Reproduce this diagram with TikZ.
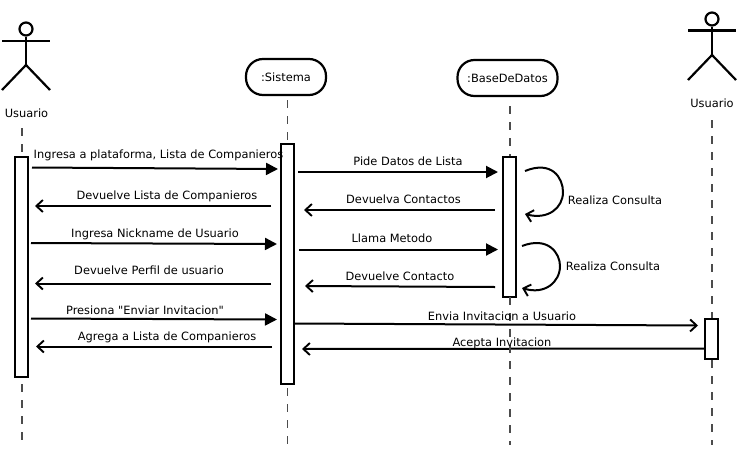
\documentclass[tikz,border=0pt]{standalone}
\usepackage{fontspec}
\newfontfamily\plainf{DejaVu Sans}
\usetikzlibrary{arrows.meta}
\tikzset{
  x=1pt,y=-1pt,
  txt/.style={inner sep=0pt,font=\plainf\fontsize{11.4}{13}\selectfont,text=black,yshift=-0.8pt},
  bar/.style={draw=black,line width=2.2pt,fill=white,minimum width=13pt,inner sep=0pt,anchor=north},
  objbox/.style={draw=black,line width=2.2pt,rounded corners=17pt,fill=white,inner sep=0pt,font=\plainf\fontsize{11.4}{13}\selectfont},
  life/.style={draw=black!70,line width=1.4pt,dash pattern=on 8pt off 8pt},
  sync/.style={draw=black,line width=2pt,-{Triangle[length=12pt,width=12pt]}},
  reply/.style={draw=black,line width=2pt,-{Straight Barb[length=6.5pt,width=12pt,line width=1.9pt]}},
  limb/.style={draw=black,line width=2.2pt},
}
\begin{document}
\begin{tikzpicture}
\useasboundingbox (0,0) rectangle (738,450);
% lifeline coordinates
\coordinate (l1a) at (22,128); \coordinate (l1b) at (22,442);
\coordinate (l2a) at (287.5,100); \coordinate (l2b) at (287.5,450);
\coordinate (l3a) at (510,106); \coordinate (l3b) at (510,445);
\coordinate (l4a) at (712,120); \coordinate (l4b) at (712,445);
\draw[life] (l1a) -- (l1b);
\draw[life] (l2a) -- (l2b);
\draw[life] (l4a) -- (l4b);
% object boxes
\node[objbox,minimum width=80pt,minimum height=36pt] (sis) at (286,77) {:Sistema};
\node[objbox,minimum width=100pt,minimum height=36pt] (bd) at (507.5,78) {:BaseDeDatos};
% activation bars
\node[bar,minimum height=240pt] (b2) at (287.5,142.8) {};
\node[bar,minimum height=220pt] (b1) at (21.5,155.8) {};
\node[bar,minimum height=140pt] (b3) at (509.5,155.8) {};
\node[bar,minimum height=40pt] (b4) at (711.5,317.8) {};
% actors
\node[circle,draw=black,line width=2.2pt,minimum size=13pt,inner sep=0pt] (h1) at (26,29) {};
\coordinate (hip1) at (26,65);
\coordinate (al1) at (2,41); \coordinate (ar1) at (50,41);
\coordinate (fl1) at (2,90); \coordinate (fr1) at (50,90);
\draw[limb] (h1) -- (hip1);
\draw[limb] (al1) -- (ar1);
\draw[limb] (fl1) -- (hip1) -- (fr1);
\node[txt] (u1) at (26.5,112) {Usuario};
\node[circle,draw=black,line width=2.2pt,minimum size=13pt,inner sep=0pt] (h2) at (712,19) {};
\coordinate (hip2) at (712,55);
\coordinate (al2) at (688,30.5); \coordinate (ar2) at (736,30.5);
\coordinate (fl2) at (688,80); \coordinate (fr2) at (736,80);
\draw[limb] (h2) -- (hip2);
\draw[limb] (al2) -- (ar2);
\draw[limb] (fl2) -- (hip2) -- (fr2);
\node[txt] (u2) at (712,102) {Usuario};
% message end points
\coordinate (m1a) at (32,167.5); \coordinate (m1b) at (278,169);
\coordinate (m2a) at (271,206); \coordinate (m2b) at (35,206);
\coordinate (m3a) at (298,172); \coordinate (m3b) at (498,172);
\coordinate (m4a) at (495,210); \coordinate (m4b) at (304,210);
\coordinate (m5a) at (31,243); \coordinate (m5b) at (277,244);
\coordinate (m6a) at (271,283.5); \coordinate (m6b) at (35,283.5);
\coordinate (m7a) at (299,249.5); \coordinate (m7b) at (498,249.5);
\coordinate (m8a) at (495,287); \coordinate (m8b) at (305,286);
\coordinate (m9a) at (31,318.5); \coordinate (m9b) at (277,319.5);
\coordinate (m10a) at (272,346.5); \coordinate (m10b) at (36,346.5);
\coordinate (m11a) at (295,323.5); \coordinate (m11b) at (698,325.5);
\coordinate (m12a) at (705,348.5); \coordinate (m12b) at (302,349);
\draw[sync] (m1a) -- (m1b);
\draw[reply] (m2a) -- (m2b);
\draw[sync] (m3a) -- (m3b);
\draw[reply] (m4a) -- (m4b);
\draw[sync] (m5a) -- (m5b);
\draw[reply] (m6a) -- (m6b);
\draw[sync] (m7a) -- (m7b);
\draw[reply] (m8a) -- (m8b);
\draw[sync] (m9a) -- (m9b);
\draw[reply] (m10a) -- (m10b);
\draw[reply] (m11a) -- (m11b);
\draw[reply] (m12a) -- (m12b);
% third lifeline, above the bar and below it (crossing the messages)
\coordinate (b3t) at (510,156); \coordinate (b3e) at (510,297);
\draw[life] (l3a) -- (b3t);
\draw[life] (b3e) -- (l3b);
% self calls
\coordinate (s1a) at (525,171); \coordinate (s1b) at (525,214);
\coordinate (s2a) at (522,246); \coordinate (s2b) at (522,288);
\draw[reply] (s1a) .. controls (552,160) and (563,178) .. (563,192) .. controls (563,208) and (548,220) .. (s1b);
\draw[reply] (s2a) .. controls (548,236) and (560,253) .. (560,266) .. controls (560,282) and (545,295) .. (s2b);
% labels
\node[txt] (t1) at (158.5,155) {Ingresa a plataforma, Lista de Companieros};
\node[txt] (t2) at (167,196) {Devuelve Lista de Companieros};
\node[txt] (t3) at (408,160.5) {Pide Datos de Lista};
\node[txt] (t4) at (403.5,198) {Devuelva Contactos};
\node[txt] (t5) at (155,233.5) {Ingresa Nickname de Usuario};
\node[txt] (t6) at (149,269) {Devuelve Perfil de usuario};
\node[txt] (t7) at (392,237.5) {Llama Metodo};
\node[txt] (t8) at (400,275.5) {Devuelve Contacto};
\node[txt] (t9) at (145,309) {Presiona "Enviar Invitacion"};
\node[txt] (t10) at (167,337) {Agrega a Lista de Companieros};
\node[txt] (t11) at (502,315.5) {Envia Invitacion a Usuario};
\node[txt] (t12) at (502,342.5) {Acepta Invitacion};
\node[txt] (t13) at (615,199.5) {Realiza Consulta};
\node[txt] (t14) at (613,265.5) {Realiza Consulta};
\end{tikzpicture}
\end{document}
